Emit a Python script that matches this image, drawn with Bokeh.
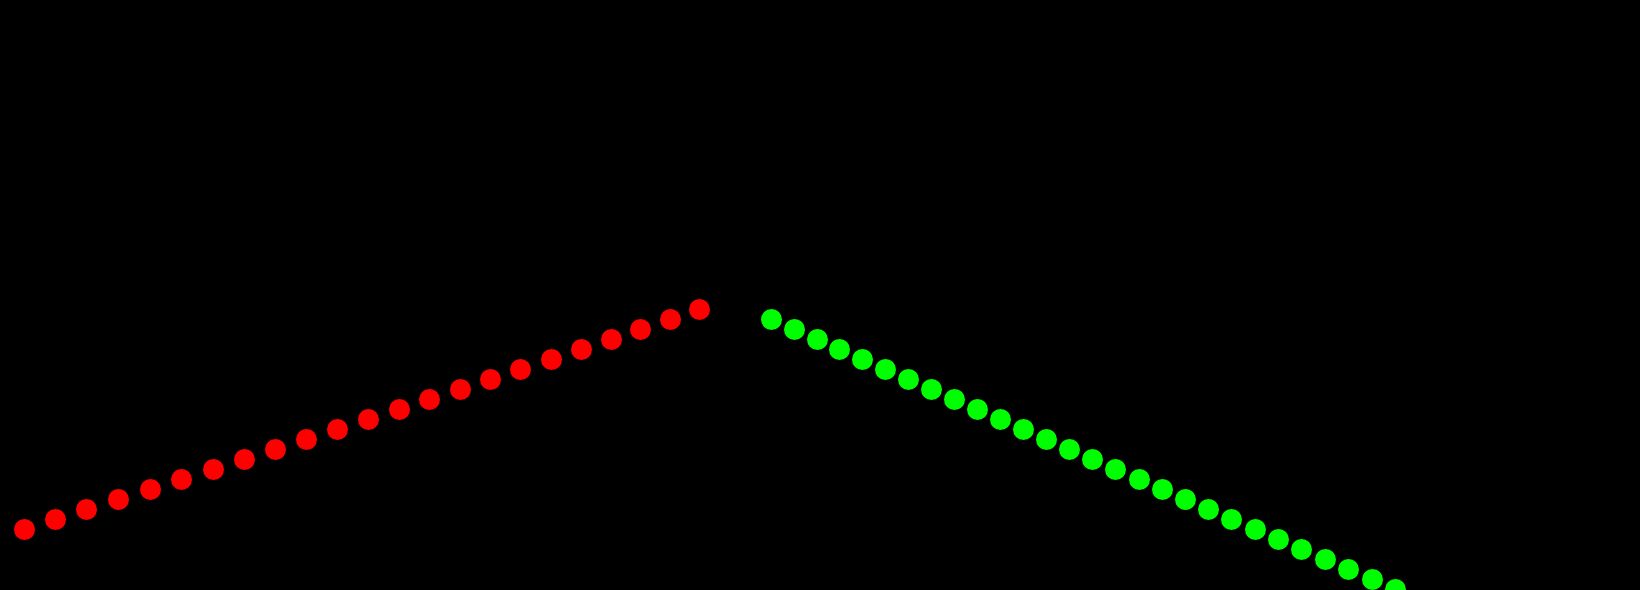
from bokeh.plotting import figure
from bokeh.models import Range1d
from bokeh.embed import file_html
from bokeh.resources import INLINE

# Red series (rising)
red_x = [24, 55, 86, 118, 150, 181, 213, 244, 275, 306, 337, 368, 399,
         429, 460, 490, 520, 551, 581, 611, 640, 670, 699]
red_y = [61, 71, 81, 91, 101, 111, 121, 131, 141, 151, 161, 171, 181,
         191, 201, 211, 221, 231, 241, 251, 261, 271, 281]

# Green series (falling)
green_x = [771, 794, 817, 839, 862, 885, 908, 931, 954, 977, 1000, 1023,
           1046, 1069, 1092, 1115, 1139, 1162, 1185, 1208, 1231, 1255,
           1278, 1301, 1325, 1348, 1372, 1395]
green_y = [271, 261, 251, 241, 231, 221, 211, 201, 191, 181, 171, 161,
           151, 141, 131, 121, 111, 101, 91, 81, 71, 61, 51, 41, 31, 21,
           11, 1]

p = figure(width=1640, height=590, output_backend="svg", toolbar_location=None,
           x_range=Range1d(0, 1640), y_range=Range1d(0, 590),
           min_border=0, min_border_left=0, min_border_right=0,
           min_border_top=0, min_border_bottom=0)
p.axis.visible = False
p.grid.visible = False
p.outline_line_color = None
p.background_fill_color = "black"
p.border_fill_color = "black"
p.styles = {"background-color": "black"}

p.scatter(red_x, red_y, size=21, fill_color="#ff0000", line_color=None)
p.scatter(green_x, green_y, size=21, fill_color="#00ff00", line_color=None)

html = file_html(p, INLINE)
html = html.replace("<head>", "<head><style>html,body{margin:0;padding:0;background:#000;overflow:hidden;}</style>", 1)
open("out.html", "w").write(html)
